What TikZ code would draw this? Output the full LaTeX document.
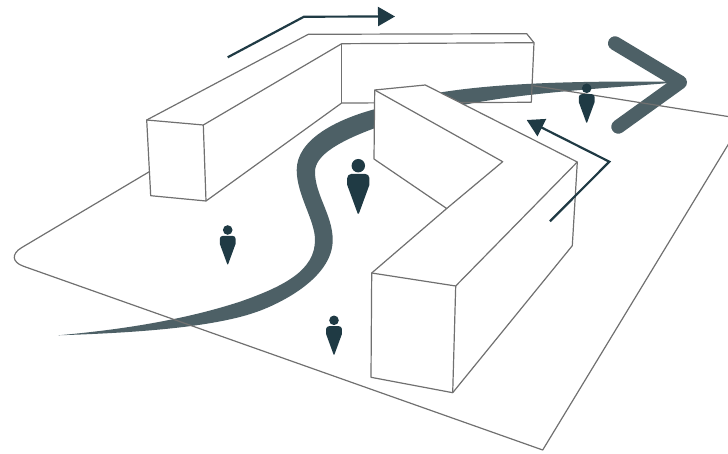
\documentclass[tikz,border=0pt]{standalone}
\usepackage{xcolor}
\usetikzlibrary{arrows.meta}
\definecolor{wallgrey}{RGB}{112,112,112}
\definecolor{swooshgrey}{RGB}{77,96,102}
\definecolor{persondark}{RGB}{31,58,68}
\tikzset{
  wall/.style={draw=wallgrey, line width=1.2pt, line join=round},
  flow/.style={persondark, line width=2.2pt, -{Triangle[length=17pt,width=19pt]}},
  person/.pic={
    \fill[persondark] (0,0) circle (4.8);
    \fill[persondark] (-5,5.9) -- (5,5.9) to[out=0,in=90] (7.9,8.8) -- (7.9,13.8) -- (0.4,34.3) -- (-0.4,34.3) -- (-7.9,13.8) -- (-7.9,8.8) to[out=90,in=180] cycle;
  }
}
\begin{document}
\begin{tikzpicture}[x=1pt, y=-1pt]
\clip (0,0) rectangle (728,454);
% route through the yard
\fill[swooshgrey] (58.3,335.3) .. controls (130,329) and (190,318) .. (240,301.7)
  .. controls (285,286) and (315,270) .. (315,240)
  .. controls (315,220) and (296.7,195) .. (296.7,170)
  .. controls (296.7,140) and (335,120) .. (374.3,109.3)
  .. controls (425,90) and (500,80) .. (673.3,81.7)
  -- (673.3,82.7) .. controls (610,88) and (530,92) .. (466.7,104.3)
  .. controls (430,112) and (400,119) .. (374.3,128.3)
  .. controls (340,141) and (315,155) .. (315,171.7)
  .. controls (315,195) and (332.7,215) .. (332.7,240)
  .. controls (332.7,275) and (288,300) .. (260,310.7)
  .. controls (215,327.9) and (130,333) .. (58.3,335.3) -- cycle;
\draw[swooshgrey, line width=14pt, line cap=round, line join=round] (615,43.3) -- (680,82.3) -- (618.3,126.7);
% ground
\draw[wall] (533.3,85.7) -- (743.7,119) -- (542.7,450) [rounded corners=22pt] -- (2.7,258.9) -- (149.3,171.7);
% back building
\draw[wall, fill=white] (146.7,120) -- (203.3,125) -- (206,201) -- (150.7,195.7) -- cycle;
\draw[wall] (146.7,120) -- (308.3,34.3) -- (526.7,33.7) -- (534,42.7) -- (531.3,102.3) -- (341.7,103) -- (206,201);
\draw[wall] (203.3,125) -- (341.7,43.7) -- (534,42.7);
\draw[wall] (341.7,43.7) -- (341.7,103);
% front building
\draw[wall, fill=white] (374.7,90) -- (425.3,85) -- (577.3,162) -- (572.3,245.7) -- (452.7,392.7) -- (371,377.3) -- (371.7,273) -- (446.7,208.5) -- (374,159) -- cycle;
\draw[wall] (374.7,90) -- (502.7,161.7) -- (446.7,208.5);
\draw[wall] (371.7,273) -- (455.7,286) -- (452.7,392.7);
\draw[wall] (455.7,286) -- (577.3,162);
% people
\pic[scale=1.4] at (358.3,165.7) {person};
\pic at (227.7,230) {person};
\pic at (334,320.3) {person};
\pic at (586.7,88.3) {person};
% direction arrows
\draw[flow] (227.7,57.3) -- (304,16.7) -- (395,16.5);
\draw[flow] (550,221.3) -- (609.3,161.7) -- (526.7,120);
\end{tikzpicture}
\end{document}
